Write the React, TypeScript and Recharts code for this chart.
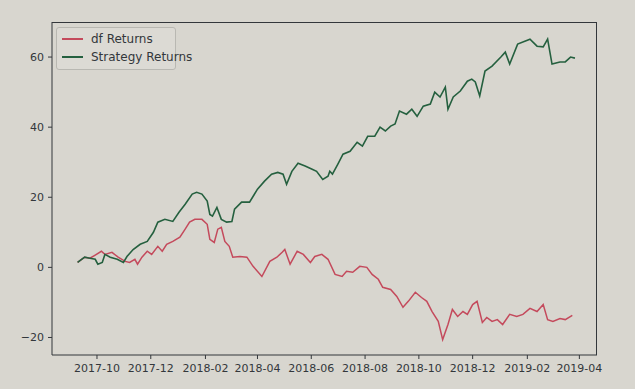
import { LineChart, Line, XAxis, YAxis } from 'recharts';

const strategyDates = [
  '2017-09-09', '2017-09-17', '2017-09-23', '2017-09-29', '2017-10-02', '2017-10-07', '2017-10-10',
  '2017-10-16', '2017-10-24', '2017-10-31', '2017-11-04', '2017-11-11', '2017-11-19', '2017-11-27',
  '2017-12-04', '2017-12-09', '2017-12-17', '2017-12-26', '2018-01-02', '2018-01-09', '2018-01-17',
  '2018-01-22', '2018-01-28', '2018-02-03', '2018-02-06', '2018-02-09', '2018-02-14', '2018-02-19',
  '2018-02-25', '2018-03-03', '2018-03-06', '2018-03-14', '2018-03-23', '2018-04-01', '2018-04-09',
  '2018-04-17', '2018-04-24', '2018-04-30', '2018-05-04', '2018-05-10', '2018-05-17', '2018-05-25',
  '2018-06-02', '2018-06-07', '2018-06-14', '2018-06-20', '2018-06-22', '2018-06-25', '2018-07-01',
  '2018-07-07', '2018-07-15', '2018-07-23', '2018-07-29', '2018-08-04', '2018-08-12', '2018-08-18',
  '2018-08-24', '2018-08-30', '2018-09-04', '2018-09-09', '2018-09-17', '2018-09-23', '2018-09-29',
  '2018-10-06', '2018-10-14', '2018-10-19', '2018-10-25', '2018-10-31', '2018-11-03', '2018-11-09',
  '2018-11-17', '2018-11-25', '2018-11-30', '2018-12-04', '2018-12-09', '2018-12-15', '2018-12-23',
  '2019-01-02', '2019-01-07', '2019-01-12', '2019-01-21', '2019-02-04', '2019-02-12', '2019-02-19',
  '2019-02-24', '2019-03-01', '2019-03-10', '2019-03-16', '2019-03-22', '2019-03-27',
];
const strategyValues = [
  1.4, 2.9, 2.6, 2.3, 0.9, 1.4, 3.7,
  2.9, 2.3, 1.4, 3.1, 5.1, 6.6, 7.4,
  10, 12.9, 13.7, 13.1, 15.7, 18, 20.9,
  21.4, 20.9, 18.9, 15.1, 14.6, 17.1, 13.7,
  12.9, 13.1, 16.6, 18.6, 18.6, 22.3, 24.6,
  26.6, 27.1, 26.6, 23.7, 27.4, 29.7, 28.9,
  28, 27.4, 25.1, 26, 27.4, 26.6, 29.4,
  32.3, 33.1, 35.7, 34.6, 37.4, 37.4, 40,
  38.9, 40.3, 40.9, 44.6, 43.7, 45.1, 43.1,
  46, 46.6, 50, 48.6, 51.4, 45.1, 48.6,
  50.3, 53.1, 53.7, 52.9, 48.9, 56, 57.4,
  60, 61.4, 58, 63.7, 65.1, 63.1, 62.9,
  65.1, 58, 58.6, 58.6, 60, 59.7,
];

const dfDates = [
  '2017-09-09', '2017-09-17', '2017-09-23', '2017-09-29', '2017-10-06', '2017-10-10', '2017-10-18',
  '2017-10-25', '2017-11-02', '2017-11-07', '2017-11-13', '2017-11-16', '2017-11-21', '2017-11-27',
  '2017-12-02', '2017-12-09', '2017-12-14', '2017-12-19', '2017-12-26', '2018-01-03', '2018-01-09',
  '2018-01-14', '2018-01-20', '2018-01-28', '2018-02-03', '2018-02-06', '2018-02-11', '2018-02-15',
  '2018-02-19', '2018-02-23', '2018-02-28', '2018-03-04', '2018-03-12', '2018-03-20', '2018-03-27',
  '2018-04-06', '2018-04-15', '2018-04-23', '2018-04-29', '2018-05-02', '2018-05-08', '2018-05-16',
  '2018-05-23', '2018-05-31', '2018-06-05', '2018-06-13', '2018-06-20', '2018-06-28', '2018-07-06',
  '2018-07-11', '2018-07-18', '2018-07-26', '2018-08-03', '2018-08-09', '2018-08-16', '2018-08-21',
  '2018-08-30', '2018-09-06', '2018-09-13', '2018-09-19', '2018-09-27', '2018-10-04', '2018-10-10',
  '2018-10-16', '2018-10-23', '2018-10-28', '2018-11-03', '2018-11-08', '2018-11-14', '2018-11-20',
  '2018-11-25', '2018-12-01', '2018-12-06', '2018-12-12', '2018-12-17', '2018-12-23', '2018-12-29',
  '2019-01-04', '2019-01-12', '2019-01-20', '2019-01-27', '2019-02-04', '2019-02-12', '2019-02-19',
  '2019-02-24', '2019-03-02', '2019-03-10', '2019-03-16', '2019-03-24',
];
const dfValues = [
  1.4, 2.9, 2.6, 3.5, 4.6, 3.7, 4.3,
  2.9, 1.7, 1.4, 2.3, 0.9, 2.9, 4.6,
  3.7, 6, 4.6, 6.6, 7.4, 8.6, 10.9,
  12.9, 13.7, 13.7, 12.3, 8, 7.1, 10.9,
  11.4, 7.4, 6, 2.9, 3.1, 2.9, 0.3,
  -2.6, 1.7, 2.9, 4.3, 5.1, 0.9, 4.6,
  3.7, 1.4, 3.1, 3.7, 2.3, -2, -2.6,
  -1.1, -1.4, 0.3, 0, -2, -3.4, -5.7,
  -6.3, -8.3, -11.4, -9.7, -7.1, -8.6, -9.7,
  -12.6, -15.4, -20.6, -16.3, -12, -14, -12.6,
  -13.4, -10.6, -9.7, -15.7, -14.3, -15.4, -14.9,
  -16.3, -13.4, -14, -13.4, -11.7, -12.6, -10.6,
  -14.9, -15.4, -14.6, -14.9, -13.7,
];

const xTickLabels = [
  '2017-10', '2017-12', '2018-02', '2018-04', '2018-06',
  '2018-08', '2018-10', '2018-12', '2019-02', '2019-04',
];
const yTicks = [-20, 0, 20, 40, 60];

const ts = (d: string) => Date.parse(d);
const strategyData = strategyDates.map((d, i) => ({ t: ts(d), v: strategyValues[i] }));
const dfData = dfDates.map((d, i) => ({ t: ts(d), v: dfValues[i] }));
const xTicks = xTickLabels.map(m => ts(m + '-01'));

const RED = '#c44a5c';
const GREEN = '#25603f';
const INK = '#33373b';
const FONT = '"DejaVu Sans", sans-serif';

const fmtMonth = (t: number) => {
  const d = new Date(t);
  return `${d.getUTCFullYear()}-${String(d.getUTCMonth() + 1).padStart(2, '0')}`;
};
const fmtY = (v: number) => (v < 0 ? `\u2212${Math.abs(v)}` : `${v}`);

export default function App() {
  const tick = { fontSize: 11, fill: INK, fontFamily: FONT };
  return (
    <div style={{ position: 'absolute', left: 0, top: 0, width: 635, height: 389, background: '#d8d6cf' }}>
      <LineChart width={635} height={389} margin={{ top: 22, right: 38, bottom: 0, left: 10 }}>
        <XAxis
          dataKey="t"
          type="number"
          domain={[ts('2017-08-11'), ts('2019-04-21')]}
          ticks={xTicks}
          tickFormatter={fmtMonth}
          tick={tick}
          tickSize={4}
          tickMargin={5}
          height={34}
          stroke={INK}
          allowDataOverflow
        />
        <YAxis
          domain={[-25, 70]}
          ticks={yTicks}
          tickFormatter={fmtY}
          tick={tick}
          tickSize={4}
          tickMargin={4}
          width={42}
          stroke={INK}
          allowDataOverflow
        />
        <Line
          data={dfData}
          dataKey="v"
          stroke={RED}
          strokeWidth={1.5}
          dot={false}
          type="linear"
          isAnimationActive={false}
        />
        <Line
          data={strategyData}
          dataKey="v"
          stroke={GREEN}
          strokeWidth={1.6}
          dot={false}
          type="linear"
          isAnimationActive={false}
        />
      </LineChart>
      {/* matplotlib box around the axes */}
      <div
        style={{
          position: 'absolute', left: 52, top: 22, width: 545, height: 333,
          borderTop: `1px solid ${INK}`, borderRight: `1px solid ${INK}`,
          boxSizing: 'border-box', pointerEvents: 'none',
        }}
      />
      <div
        style={{
          position: 'absolute', left: 56, top: 27, width: 120, height: 43,
          border: '1px solid #b9b8b2', borderRadius: 3, background: '#dcdad4',
          fontFamily: FONT, fontSize: 12, color: INK, boxSizing: 'border-box',
        }}
      >
        {[['df Returns', RED], ['Strategy Returns', GREEN]].map(([label, c], i) => (
          <div key={label} style={{ position: 'absolute', left: 5, top: 4 + i * 18, display: 'flex', alignItems: 'center', whiteSpace: 'nowrap' }}>
            <span style={{ display: 'inline-block', width: 21, height: 2, background: c, marginRight: 8 }} />
            <span>{label}</span>
          </div>
        ))}
      </div>
    </div>
  );
}
